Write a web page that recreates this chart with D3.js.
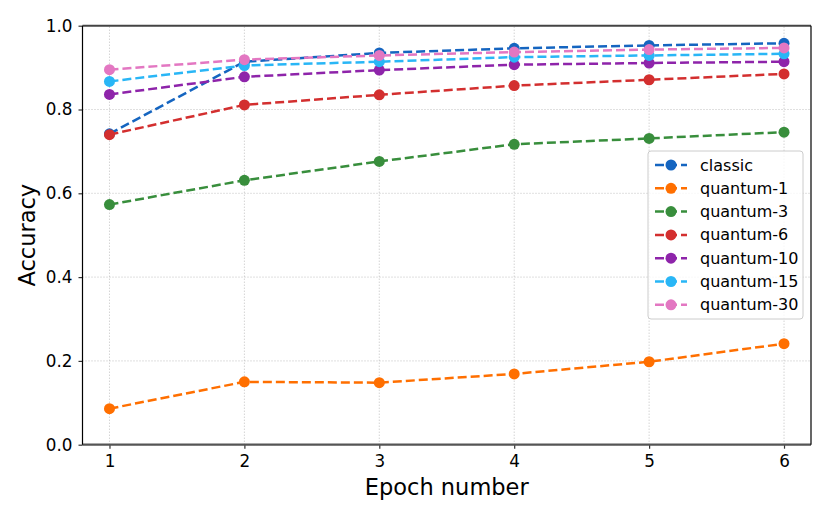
<!DOCTYPE html>
<html>
<head>
<meta charset="utf-8">
<script src="https://cdn.jsdelivr.net/npm/d3@7"></script>
<style>
  body { margin: 0; background: #fff; }
  text { font-family: "DejaVu Sans", sans-serif; }
</style>
</head>
<body>
<svg id="chart"></svg>
<script>
// SVG size params
var width = 830;
var height = 519;

// Data
var epochs = [1, 2, 3, 4, 5, 6];
var seriesNames = ["classic", "quantum-1", "quantum-3", "quantum-6", "quantum-10", "quantum-15", "quantum-30"];
var classic   = [0.742, 0.914, 0.935, 0.946, 0.953, 0.958];
var quantum1  = [0.086, 0.150, 0.148, 0.169, 0.198, 0.241];
var quantum3  = [0.573, 0.631, 0.676, 0.717, 0.731, 0.746];
var quantum6  = [0.740, 0.811, 0.835, 0.857, 0.871, 0.885];
var quantum10 = [0.836, 0.878, 0.894, 0.907, 0.911, 0.914];
var quantum15 = [0.867, 0.905, 0.914, 0.925, 0.929, 0.933];
var quantum30 = [0.895, 0.919, 0.929, 0.937, 0.943, 0.947];
var yTicks = [0, 0.2, 0.4, 0.6, 0.8, 1.0];
var colors = ["#1565c0", "#ff6f00", "#388e3c", "#d32f2f", "#8e24aa", "#29b6f6", "#e377c2"];

var allSeries = [classic, quantum1, quantum3, quantum6, quantum10, quantum15, quantum30];

// Plot area
var margin = {top: 25.7, right: 19, bottom: 74.3, left: 82.5};

var svg = d3.select("#chart")
    .attr("width", width)
    .attr("height", height);

var x = d3.scaleLinear()
    .domain([0.8, 6.2])
    .range([margin.left, width - margin.right]);

var y = d3.scaleLinear()
    .domain([0, 1])
    .range([height - margin.bottom, margin.top]);

// Gridlines
var grid = svg.append("g").attr("id", "gridLines");
grid.selectAll("line.vgrid")
    .data(epochs)
  .enter().append("line")
    .attr("class", "vgrid")
    .attr("x1", d => x(d)).attr("x2", d => x(d))
    .attr("y1", y(0)).attr("y2", y(1))
    .attr("stroke", "#b0b0b0")
    .attr("stroke-width", 0.8)
    .attr("stroke-dasharray", "1,2");
grid.selectAll("line.hgrid")
    .data(yTicks)
  .enter().append("line")
    .attr("class", "hgrid")
    .attr("x1", x(0.8)).attr("x2", x(6.2))
    .attr("y1", d => y(d)).attr("y2", d => y(d))
    .attr("stroke", "#b0b0b0")
    .attr("stroke-width", 0.8)
    .attr("stroke-dasharray", "1,2");

// Axes
var xAxis = svg.append("g")
    .attr("transform", "translate(0," + y(0) + ")")
    .call(d3.axisBottom(x).tickValues(epochs).tickFormat(d3.format("d")).tickSize(4).tickPadding(6));
var yAxis = svg.append("g")
    .attr("transform", "translate(" + x(0.8) + ",0)")
    .call(d3.axisLeft(y).tickValues(yTicks).tickFormat(d3.format(".1f")).tickSize(4).tickPadding(6));

[xAxis, yAxis].forEach(function(a) {
  a.select(".domain").remove();
  a.selectAll("text").attr("font-size", 16.8).attr("fill", "#000")
    .style("font-family", "'DejaVu Sans', sans-serif");
  a.selectAll(".tick line").attr("stroke", "#333").attr("stroke-width", 1.2);
});

// Series lines and markers
var line = d3.line()
    .x((d, i) => x(epochs[i]))
    .y(d => y(d));

var seriesG = svg.append("g").attr("id", "series");
allSeries.forEach(function(values, k) {
  var g = seriesG.append("g");
  g.append("path")
    .datum(values)
    .attr("d", line)
    .attr("fill", "none")
    .attr("stroke", colors[k])
    .attr("stroke-width", 2.5)
    .attr("stroke-dasharray", "9,4");
  g.selectAll("circle")
    .data(values)
  .enter().append("circle")
    .attr("cx", (d, i) => x(epochs[i]))
    .attr("cy", d => y(d))
    .attr("r", 5.5)
    .attr("fill", colors[k]);
});

// Spines
var spines = svg.append("g").attr("id", "spines");
spines.append("line")
    .attr("x1", x(0.8)).attr("x2", x(6.2)).attr("y1", y(1)).attr("y2", y(1))
    .attr("stroke", "#444").attr("stroke-width", 2);
spines.append("line")
    .attr("x1", x(0.8)).attr("x2", x(6.2)).attr("y1", y(0)).attr("y2", y(0))
    .attr("stroke", "#555").attr("stroke-width", 2.2);
spines.append("line")
    .attr("x1", x(0.8)).attr("x2", x(0.8)).attr("y1", y(1)).attr("y2", y(0))
    .attr("stroke", "#000").attr("stroke-width", 1.2);
spines.append("line")
    .attr("x1", x(6.2)).attr("x2", x(6.2)).attr("y1", y(1)).attr("y2", y(0))
    .attr("stroke", "#000").attr("stroke-width", 1.2);

// Axis labels
svg.append("text")
    .attr("x", (x(0.8) + x(6.2)) / 2)
    .attr("y", 495)
    .attr("text-anchor", "middle")
    .attr("font-size", 22.5)
    .text("Epoch number");
svg.append("text")
    .attr("transform", "translate(35," + (y(0) + y(1)) / 2 + ") rotate(-90)")
    .attr("text-anchor", "middle")
    .attr("font-size", 22.5)
    .text("Accuracy");

// Legend
var legend = svg.append("g").attr("id", "legend").attr("transform", "translate(648,151)");
legend.append("rect")
    .attr("width", 155).attr("height", 168)
    .attr("rx", 3)
    .attr("fill", "#fff").attr("fill-opacity", 0.8)
    .attr("stroke", "#ccc").attr("stroke-width", 1);
seriesNames.forEach(function(name, k) {
  var row = legend.append("g").attr("transform", "translate(0," + (14 + k * 23.3) + ")");
  row.append("line")
    .attr("x1", 7).attr("x2", 39)
    .attr("stroke", colors[k]).attr("stroke-width", 2.5)
    .attr("stroke-dasharray", "9,4");
  row.append("circle").attr("cx", 23).attr("r", 5.5).attr("fill", colors[k]);
  row.append("text")
    .attr("x", 52).attr("y", 5.5)
    .attr("font-size", 16)
    .text(name);
});
</script>
</body>
</html>
